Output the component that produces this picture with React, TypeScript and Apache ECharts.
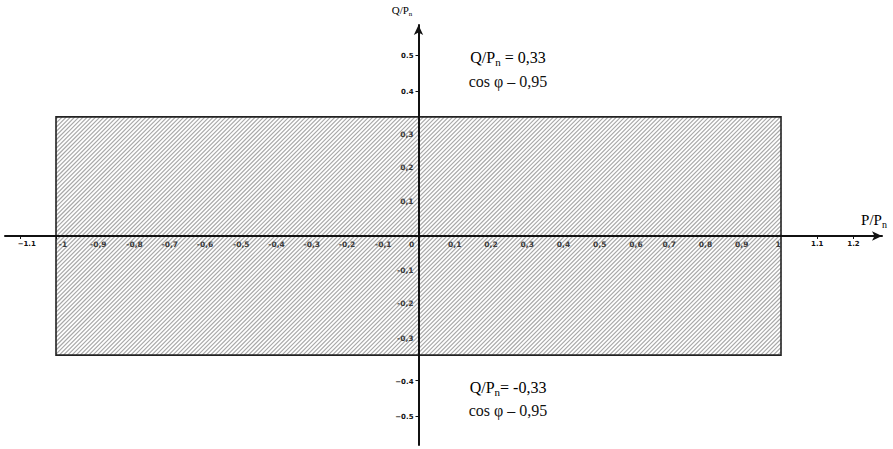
import React, { useEffect, useRef } from "react";
import * as echarts from "echarts";

// Allowed operating area (P/Pn, Q/Pn)
const pRange = [-1, 1];
const qRange = [-0.33, 0.33];
const qLabels = ["0,33", "-0,33"];
const cosPhiLabel = "0,95";

// Axis ticks
const xLabelValues = [-1.1, -1, -0.9, -0.8, -0.7, -0.6, -0.5, -0.4, -0.3, -0.2, -0.1, 0, 0.1, 0.2, 0.3, 0.4, 0.5, 0.6, 0.7, 0.8, 0.9, 1, 1.1, 1.2];
const yLabelValues = [-0.5, -0.4, -0.3, -0.2, -0.1, 0.1, 0.2, 0.3, 0.4, 0.5];
const xTickMarks = [-1.1, -1, 1.1, 1.2];
const yTickMarks = [-0.5, -0.4, 0.4, 0.5];

const fmtInner = (v: number) => {
  const s = Math.abs(v).toFixed(1).replace(/\.0$/, "").replace(".", ",");
  return (v < 0 ? "-" : "") + s;
};
const fmtOuter = (v: number) => {
  const s = Math.abs(v).toFixed(1);
  return (v < 0 ? "\u2212" : "") + s;
};

const xShift = (v: number) => {
  if (Math.abs(v) < 1e-9) return -7;
  if (v < 0) return Math.min(7, Math.round(-7 * v));
  if (v >= 0.65 && v <= 1.001) return -3;
  return 0;
};
const yShift = (v: number) => {
  const m: Record<string, number> = { "0.3": 7, "0.2": 4, "0.1": 2, "-0.1": -2, "-0.2": -5, "-0.3": -6, "-0.4": 2, "-0.5": 1 };
  return m[v.toFixed(1)] || 0;
};

// pixel frame of the plot
const GL = 5, GR = 11, GT = 25, GB = 4, W = 893, H = 449;
const X_MIN = -1.1407, X_MAX = 1.2786, Y_MIN = -0.579, Y_MAX = 0.5845;

export default function App() {
  const ref = useRef<HTMLDivElement>(null);
  useEffect(() => {
    if (!ref.current) return;
    document.body.style.margin = "0";
    const chart = echarts.init(ref.current, null, { renderer: "svg" });

    const isInnerX = (v: number) => Math.abs(v) <= 1.0001;
    const isInnerY = (v: number) => Math.abs(v) <= 0.3001;

    const mkStyle = (inner: boolean, padding: number[]) => ({
      fontSize: inner ? 7.5 : 7,
      fontWeight: "bold",
      fontFamily: "DejaVu Sans",
      color: inner ? "#3a3a3a" : "#111",
      padding,
    });

    const xRich: Record<string, any> = {};
    const xFormatter = (val: number) => {
      const v = Number(val);
      const s = xShift(v);
      const inner = isInnerX(v);
      const key = (inner ? "i" : "o") + (s >= 0 ? "p" + s : "m" + -s);
      if (!xRich[key]) xRich[key] = mkStyle(inner, s >= 0 ? [0, 0, 0, 2 * s] : [0, -2 * s, 0, 0]);
      return "{" + key + "|" + (inner ? fmtInner(v) : fmtOuter(v)) + "}";
    };
    const yRich: Record<string, any> = {};
    const yFormatter = (val: number) => {
      const v = Number(val);
      const s = yShift(v);
      const inner = isInnerY(v);
      const key = (inner ? "i" : "o") + (s >= 0 ? "p" + s : "m" + -s);
      if (!yRich[key]) yRich[key] = mkStyle(inner, s >= 0 ? [2 * s, 0, 0, 0] : [0, 0, -2 * s, 0]);
      return "{" + key + "|" + (inner ? fmtInner(v) : fmtOuter(v)) + "}";
    };
    xLabelValues.forEach((v) => xFormatter(v));
    yLabelValues.forEach((v) => yFormatter(v));

    // offsets that put each axis through the origin
    const plotW = W - GL - GR, plotH = H - GT - GB;
    const zeroX = GL + ((0 - X_MIN) / (X_MAX - X_MIN)) * plotW;
    const zeroY = GT + ((Y_MAX - 0) / (Y_MAX - Y_MIN)) * plotH;
    const xOffset = -((H - GB) - zeroY);
    const yOffset = -(zeroX - GL);

    const serif = "Liberation Serif";
    const sub = (base: number) => ({
      a: { fontSize: base, fontFamily: serif, color: "#111", lineHeight: base + 4 },
      s: { fontSize: Math.round(base * 0.68), fontFamily: serif, color: "#111", verticalAlign: "bottom", lineHeight: Math.round(base * 0.68) + 2 },
    });

    const option: any = {
      animation: false,
      grid: { left: GL, right: GR, top: GT, bottom: GB, containLabel: false, outerBoundsMode: "none" },
      xAxis: {
        type: "value",
        position: "bottom",
        offset: xOffset,
        min: X_MIN,
        max: X_MAX,
        z: 5,
        splitLine: { show: false },
        axisLine: {
          onZero: false,
          lineStyle: { color: "#111", width: 2 },
          symbol: ["none", "arrow"],
          symbolSize: [7, 10],
        },
        axisTick: { show: true, customValues: xTickMarks, length: 3, lineStyle: { color: "#111", width: 1 } },
        axisLabel: { customValues: xLabelValues, margin: 5, formatter: xFormatter, rich: xRich },
      },
      yAxis: {
        type: "value",
        position: "left",
        offset: yOffset,
        min: Y_MIN,
        max: Y_MAX,
        z: 5,
        splitLine: { show: false },
        axisLine: {
          onZero: false,
          lineStyle: { color: "#111", width: 2 },
          symbol: ["none", "arrow"],
          symbolSize: [7, 10],
        },
        axisTick: { show: true, customValues: yTickMarks, length: 3, lineStyle: { color: "#111", width: 1 } },
        axisLabel: { customValues: yLabelValues, margin: 5, formatter: yFormatter, rich: yRich },
      },
      series: [
        {
          type: "custom",
          z: 2,
          data: [[pRange[0], pRange[1], qRange[0], qRange[1]]],
          encode: { x: [0, 1], y: [2, 3] },
          renderItem: (params: any, api: any) => {
            const a = api.coord([api.value(0), api.value(3)]);
            const b = api.coord([api.value(1), api.value(2)]);
            const x0 = a[0], y0 = a[1], x1 = b[0], y1 = b[1];
            const children: any[] = [];
            const step = 4.2;
            for (let c = x0 + y0 + step / 2; c < x1 + y1; c += step) {
              const xs = Math.max(x0, c - y1);
              const xe = Math.min(x1, c - y0);
              if (xe <= xs) continue;
              children.push({
                type: "line",
                shape: { x1: xs, y1: c - xs, x2: xe, y2: c - xe },
                style: { stroke: "#a8a8a8", lineWidth: 1.2 },
                silent: true,
              });
            }
            children.push({
              type: "rect",
              shape: { x: x0, y: y0, width: x1 - x0, height: y1 - y0 },
              style: { fill: "none", stroke: "#222", lineWidth: 1.6 },
            });
            return { type: "group", children };
          },
        },
      ],
      graphic: [
        { type: "text", x: 874, y: 220, style: { text: "{a|P/P}{s|n}", rich: sub(15), align: "center", verticalAlign: "middle" } },
        { type: "text", x: 402, y: 10, style: { text: "{a|Q/P}{s|n}", rich: sub(11), align: "center", verticalAlign: "middle" } },
        { type: "text", x: 508, y: 57, style: { text: "{a|Q/P}{s|n}{a| = " + qLabels[0] + "}", rich: sub(16), align: "center", verticalAlign: "middle" } },
        { type: "text", x: 508, y: 81, style: { text: "cos \u03c6 \u2013 " + cosPhiLabel, fontSize: 16, fontFamily: serif, fill: "#111", align: "center", verticalAlign: "middle" } },
        { type: "text", x: 508, y: 387, style: { text: "{a|Q/P}{s|n}{a|= " + qLabels[1] + "}", rich: sub(16), align: "center", verticalAlign: "middle" } },
        { type: "text", x: 508, y: 410, style: { text: "cos \u03c6 \u2013 " + cosPhiLabel, fontSize: 16, fontFamily: serif, fill: "#111", align: "center", verticalAlign: "middle" } },
      ],
    };
    chart.setOption(option);
    return () => chart.dispose();
  }, []);
  return <div ref={ref} style={{ position: "fixed", left: 0, top: 0, width: 893, height: 449, background: "#fff" }} />;
}
